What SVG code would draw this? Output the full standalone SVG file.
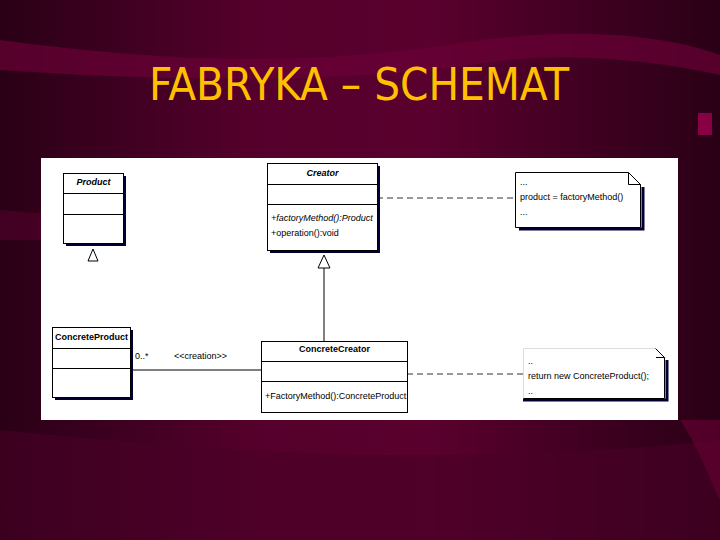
<svg xmlns="http://www.w3.org/2000/svg" width="720" height="540" viewBox="0 0 720 540">
<defs>
<linearGradient id="bg" x1="0" y1="0" x2="1" y2="0">
<stop offset="0" stop-color="#2a0016"/>
<stop offset="0.35" stop-color="#55002c"/>
<stop offset="0.6" stop-color="#5a002e"/>
<stop offset="1" stop-color="#2a0016"/>
</linearGradient>
<marker id="gen" viewBox="0 0 14 14" refX="7" refY="1" markerWidth="14" markerHeight="14" markerUnits="userSpaceOnUse" orient="auto"/>
<style>
.box{fill:#fff;stroke:#000;stroke-width:1}
.sh{fill:#000033}
.ln{stroke:#000;stroke-width:1;fill:none}
.dash{stroke:#333;stroke-width:1;stroke-dasharray:6,4;fill:none}
.t{font-family:"Liberation Sans",Arial,sans-serif;font-size:9px;fill:#000}
.b{font-weight:bold}
.i{font-style:italic}
.tri{fill:#fff;stroke:#000;stroke-width:1}
</style>
</defs>
<rect width="720" height="540" fill="url(#bg)"/>
<path d="M0,40 C150,60 300,70 480,40 C600,25 680,40 720,55 L720,75 C650,60 560,50 470,65 C320,85 150,80 0,70 Z" fill="#6a0036" opacity="0.7"/>
<path d="M0,210 C100,220 200,215 300,200 L300,230 C200,240 100,240 0,240 Z" fill="#5a002e" opacity="0.5"/>
<path d="M0,430 C200,450 450,470 720,440 L720,540 L0,540 Z" fill="#4a0026" opacity="0.6"/>
<path d="M680,420 C700,450 710,480 720,500 L720,420 Z" fill="#6a0036" opacity="0.6"/>
<rect x="698" y="113" width="14" height="22" fill="#a00050" opacity="0.8"/>
<text x="359" y="100" text-anchor="middle" font-family="'DejaVu Sans Condensed','DejaVu Sans',sans-serif" font-size="44" fill="#ffc000" textLength="420" lengthAdjust="spacingAndGlyphs">FABRYKA – SCHEMAT</text>

<rect x="41" y="158" width="637" height="262" fill="#fff"/>

<g id="connectors">
<line class="ln" x1="324" y1="268" x2="324" y2="341"/>
<polygon class="tri" points="324,255 318,268 330,268"/>
<polygon class="tri" points="93,249 88,261 98,261"/>
<line class="ln" x1="130" y1="370" x2="261" y2="370"/>
<text class="t" x="135" y="359">0..*</text>
<text class="t" x="174" y="359">&lt;&lt;creation&gt;&gt;</text>
<line class="dash" x1="377" y1="198" x2="515" y2="198"/>
<line class="dash" x1="407" y1="374" x2="523" y2="374"/>
</g>

<g id="product">
<rect class="sh" x="66" y="176" width="60" height="70"/>
<rect class="box" x="63.5" y="173.5" width="60" height="70"/>
<line class="ln" x1="63.5" y1="193.5" x2="123.5" y2="193.5"/>
<line class="ln" x1="63.5" y1="214.5" x2="123.5" y2="214.5"/>
<text class="t b i" x="93.5" y="185" text-anchor="middle">Product</text>
</g>

<g id="creator">
<rect class="sh" x="270" y="166" width="110" height="87"/>
<rect class="box" x="267.5" y="163.5" width="110" height="87"/>
<line class="ln" x1="267.5" y1="184.5" x2="377.5" y2="184.5"/>
<line class="ln" x1="267.5" y1="204.5" x2="377.5" y2="204.5"/>
<text class="t b i" x="322.5" y="176" text-anchor="middle">Creator</text>
<text class="t i" x="271" y="221">+factoryMethod():Product</text>
<text class="t" x="271" y="236">+operation():void</text>
</g>

<g id="note1">
<path d="M519,229 L643,229 L643,187" fill="none" stroke="#000033" stroke-width="3"/>
<path d="M515.5,172.5 L628.5,172.5 L640.5,184.5 L640.5,227.5 L515.5,227.5 Z" fill="#fff" stroke="#000" stroke-width="1"/>
<path d="M628.5,172.5 L628.5,184.5 L640.5,184.5" fill="none" stroke="#000" stroke-width="1"/>
<text class="t" x="520" y="185">...</text>
<text class="t" x="520" y="200">product = factoryMethod()</text>
<text class="t" x="520" y="215">...</text>
</g>

<g id="concreteproduct">
<rect class="sh" x="55" y="330" width="78" height="70"/>
<rect class="box" x="52.5" y="327.5" width="78" height="70"/>
<line class="ln" x1="52.5" y1="348.5" x2="130.5" y2="348.5"/>
<line class="ln" x1="52.5" y1="368.5" x2="130.5" y2="368.5"/>
<text class="t b" x="55" y="340">ConcreteProduct</text>
</g>

<g id="concretecreator">
<rect class="box" x="261.5" y="341.5" width="146" height="71"/>
<line class="ln" x1="261.5" y1="361.5" x2="407.5" y2="361.5"/>
<line class="ln" x1="261.5" y1="381.5" x2="407.5" y2="381.5"/>
<text class="t b" x="334.5" y="352" text-anchor="middle">ConcreteCreator</text>
<text class="t" x="265" y="399">+FactoryMethod():ConcreteProduct</text>
</g>

<g id="note2">
<path d="M523,400 L667,400 L667,360" fill="none" stroke="#000033" stroke-width="3"/>
<path d="M523.5,348.5 L655.5,348.5 L664.5,357.5 L664.5,398.5 L523.5,398.5 Z" fill="#fff" stroke="#ddd" stroke-width="1"/>
<path d="M655.5,348.5 L664.5,357.5" fill="none" stroke="#000" stroke-width="1"/>
<line class="ln" x1="523.5" y1="398.5" x2="664.5" y2="398.5"/>
<line class="ln" x1="664.5" y1="357.5" x2="664.5" y2="398.5"/>
<line class="ln" x1="656" y1="357.5" x2="664.5" y2="357.5"/>
<text class="t" x="528" y="364">..</text>
<text class="t" x="528" y="379">return new ConcreteProduct();</text>
<text class="t" x="528" y="394">..</text>
</g>
</svg>
